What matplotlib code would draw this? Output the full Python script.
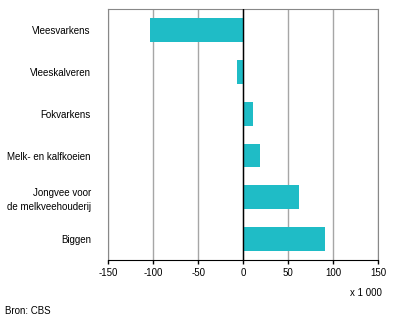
import matplotlib
matplotlib.use("Agg")
import matplotlib.pyplot as plt

categories = ["Vleesvarkens", "Vleeskalveren", "Fokvarkens",
              "Melk- en kalfkoeien", "Jongvee voor\nde melkveehouderij", "Biggen"]
values = [-104, -7, 10.5, 18.5, 62, 91]
xticks = [-150, -100, -50, 0, 50, 100, 150]

plt.rcParams['font.family'] = ['Liberation Sans', 'DejaVu Sans']
plt.rcParams['font.size'] = 7

fig = plt.figure(figsize=(3.96, 3.33), dpi=100)
ax = fig.add_axes([0.2735, 0.2192, 0.6818, 0.7528])

pos = list(range(len(categories)))
ax.barh(pos, values, height=0.57, color='#1fbcc6', zorder=3)
ax.set_ylim(len(categories) - 0.5, -0.5)
ax.set_xlim(-150, 150)
ax.set_xticks(xticks)
ax.set_xticklabels([str(t) for t in xticks])
ax.set_yticks(pos)
ax.set_yticklabels(categories, multialignment='right', linespacing=1.5)
ax.tick_params(axis='y', length=0, pad=12.5)
ax.tick_params(axis='x', length=3, width=1, direction='out', pad=3, color='black')

ax.grid(axis='x', color='#a6a6a6', linewidth=1, zorder=0)
ax.axvline(0, color='black', linewidth=1, zorder=4)

for side in ['top', 'left', 'right']:
    ax.spines[side].set_color('#888888')
ax.spines['bottom'].set_color('black')

fig.text(0.9646, 0.120, "x 1 000", ha='right', va='center')
fig.text(0.013, 0.066, "Bron: CBS", ha='left', va='center')

fig.savefig("out.png", dpi=100)
